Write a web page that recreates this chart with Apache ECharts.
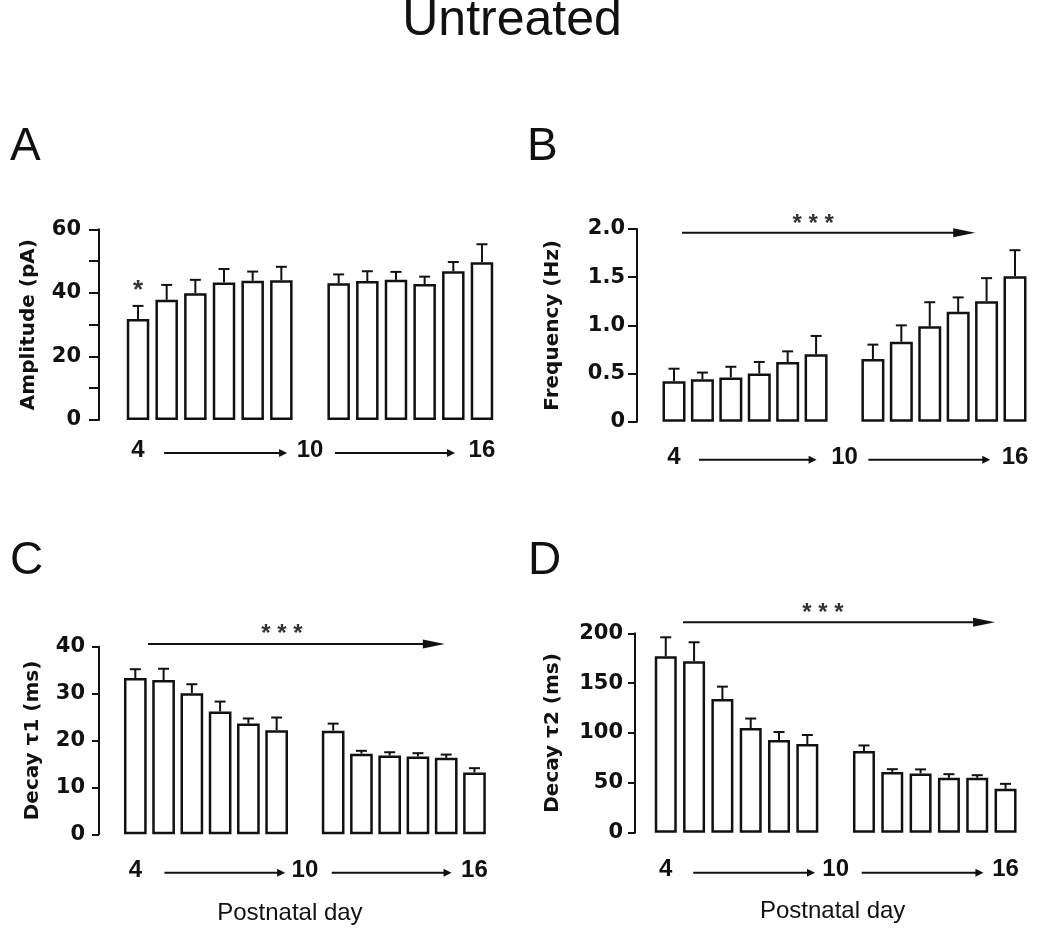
<!DOCTYPE html>
<html><head><meta charset="utf-8">
<script src="https://cdn.jsdelivr.net/npm/echarts@6/dist/echarts.min.js"></script>
<style>html,body{margin:0;padding:0;background:#fff}#c{width:1050px;height:935px}</style>
</head><body><div id="c"></div>
<script>
// ---- data ----
const days = [4, 5, 6, 7, 8, 9, 10, 11, 12, 13, 14, 15, 16];
const dayLabelsShown = [4, 10, 16];
const amplitudeMean = [31.8, 37.8, 39.9, 43.3, 43.8, 44.0, null, 43.0, 43.7, 44.1, 42.8, 46.8, 49.6];
const amplitudeSem  = [4.1, 4.7, 4.2, 4.2, 2.9, 4.2, null, 2.8, 3.1, 2.5, 2.3, 2.9, 5.7];
const frequencyMean = [0.42, 0.44, 0.46, 0.50, 0.62, 0.70, null, 0.65, 0.83, 0.99, 1.14, 1.25, 1.51];
const frequencySem  = [0.13, 0.07, 0.11, 0.12, 0.11, 0.19, null, 0.15, 0.17, 0.25, 0.15, 0.24, 0.27];
const tau1Mean = [33.3, 32.9, 30.1, 26.2, 23.6, 22.2, null, 22.1, 17.2, 16.8, 16.6, 16.3, 13.2];
const tau1Sem  = [1.9, 2.4, 1.9, 2.1, 1.1, 2.7, null, 1.5, 0.6, 0.7, 0.7, 0.7, 0.9];
const tau2Mean = [177, 172, 134, 105, 93, 89, null, 82, 61, 59.5, 55, 55, 44];
const tau2Sem  = [19, 19, 12.5, 9.5, 8, 9, null, 5.5, 2.7, 4, 3.7, 2.7, 5];
const yTicksA = [0, 20, 40, 60];
const yTicksB = [0, 0.5, 1.0, 1.5, 2.0];
const yTicksC = [0, 10, 20, 30, 40];
const yTicksD = [0, 50, 100, 150, 200];

// ---- layout / style ----
const INK = '#111';
const panels = [
  {letter:'A', name:'Amplitude (pA)', mean:amplitudeMean, sem:amplitudeSem, ticks:yTicksA, minorStep:10,
   grid:{left:123.7, top:229.3, width:372.6, height:190.7}, yOffset:24.7, labelMargin:18, tickLen:10, nameGap:60,
   xMargin:18, rowOff:33, rowArrows:[[0.91,5.2],[6.87,11.06]], fmt:v=>String(v), barW:22.5,
   letterPos:[10,147]},
  {letter:'B', name:'Frequency (Hz)', mean:frequencyMean, sem:frequencySem, ticks:yTicksB, minorStep:0.5,
   grid:{left:659.8, top:229, width:369.4, height:192.7}, yOffset:22.8, labelMargin:12, tickLen:9, nameGap:74,
   xMargin:24, rowOff:38, rowArrows:[[0.88,5.02],[6.84,11.13]], fmt:v=>v===0?'0':v.toFixed(1), barW:23,
   letterPos:[527,147]},
  {letter:'C', name:'Decay \u03c41 (ms)', mean:tau1Mean, sem:tau1Sem, ticks:yTicksC, minorStep:10,
   grid:{left:121.2, top:646.7, width:367.4, height:187.6}, yOffset:22.2, labelMargin:14, tickLen:7, nameGap:56,
   xMargin:24, rowOff:38.5, rowArrows:[[1.03,5.3],[6.95,11.19]], fmt:v=>String(v), xName:true, namePad:[0,30,0,0], barW:22.7,
   letterPos:[10,561]},
  {letter:'D', name:'Decay \u03c42 (ms)', mean:tau2Mean, sem:tau2Sem, ticks:yTicksD, minorStep:50,
   grid:{left:651.6, top:633.3, width:368.1, height:199.4}, yOffset:16.6, labelMargin:12, tickLen:7, nameGap:72,
   xMargin:25, rowOff:40, rowArrows:[[0.97,5.27],[6.92,11.22]], fmt:v=>String(v), xName:true, namePad:[0,6,0,0], barW:22,
   letterPos:[528,561]}
];
// significance annotations: slot positions in category units, heights in data units
const singleStars = [{panel:0, slot:0, value:42.4, text:'*'}];
const trendArrows = [
  {panel:1, from:0.28, to:10.6, value:1.96, starSlot:4.9, starValue:2.115},
  {panel:2, from:0.45, to:10.95, value:40.6, starSlot:5.19, starValue:44.0},
  {panel:3, from:0.61, to:11.63, value:211, starSlot:5.55, starValue:226.4}
];

const chart = echarts.init(document.getElementById('c'), null, {renderer:'canvas'});
const grids = [], xAxes = [], yAxes = [], series = [];
panels.forEach((p, i) => {
  grids.push(Object.assign({containLabel:false}, p.grid));
  const maxV = p.ticks[p.ticks.length-1];
  const labelStep = p.ticks[1] - p.ticks[0];
  xAxes.push({
    type:'category', gridIndex:i, data:days.map(String),
    axisLine:{show:false}, axisTick:{show:false}, splitLine:{show:false},
    axisLabel:{interval:(idx, val)=>dayLabelsShown.includes(+val), color:INK,
      fontFamily:'Liberation Sans, Arial', fontWeight:'bold', fontSize:24, margin:p.xMargin},
    name:p.xName ? 'Postnatal day' : '', nameLocation:'middle', nameGap:67,
    nameTextStyle:{fontFamily:'Liberation Sans, Arial', fontSize:24, color:INK, padding:p.namePad||0}
  });
  yAxes.push({
    type:'value', gridIndex:i, min:0, max:maxV, interval:p.minorStep, offset:p.yOffset,
    axisLine:{show:true, lineStyle:{color:INK, width:2}},
    axisTick:{show:true, length:p.tickLen, lineStyle:{color:INK, width:2}},
    splitLine:{show:false},
    axisLabel:{margin:p.labelMargin, color:INK, fontFamily:'DejaVu Sans', fontWeight:'bold', fontSize:21,
      formatter:v=>{ const r = v/labelStep; return Math.abs(r-Math.round(r))<1e-6 ? p.fmt(v) : ''; }},
    name:p.name, nameLocation:'middle', nameRotate:90, nameGap:p.nameGap,
    nameTextStyle:{fontFamily:'DejaVu Sans', fontWeight:'bold', fontSize:20, color:INK}
  });
  series.push({
    type:'bar', xAxisIndex:i, yAxisIndex:i, barWidth:p.barW, silent:true,
    data:p.mean.map(v=>v==null?'-':v),
    itemStyle:{color:'#fff', borderColor:INK, borderWidth:2.5}, z:2
  });
  const errData = [];
  p.mean.forEach((m, j)=>{ if (m!=null) errData.push([j, m, +(m + p.sem[j]).toFixed(3)]); });
  series.push({
    type:'custom', xAxisIndex:i, yAxisIndex:i, z:3, silent:true,
    encode:{x:0, y:[1,2]}, data:errData,
    renderItem:(params, api)=>{
      const x = api.value(0), m = api.value(1), t = api.value(2);
      const a = api.coord([x, m]), b = api.coord([x, t]);
      return {type:'group', children:[
        {type:'line', shape:{x1:a[0], y1:a[1], x2:b[0], y2:b[1]}, style:{stroke:INK, lineWidth:2}},
        {type:'line', shape:{x1:b[0]-5.5, y1:b[1], x2:b[0]+5.5, y2:b[1]}, style:{stroke:INK, lineWidth:2}}
      ]};
    }
  });
});

chart.setOption({animation:false, backgroundColor:'#fff', grid:grids, xAxis:xAxes, yAxis:yAxes, series:series});

// ---- annotations positioned through the chart's own scales ----
function slotX(i, s) {
  const p0 = chart.convertToPixel({xAxisIndex:i, yAxisIndex:i}, [0, 0]);
  const p12 = chart.convertToPixel({xAxisIndex:i, yAxisIndex:i}, [12, 0]);
  return p0[0] + (p12[0]-p0[0]) * s / 12;
}
function valY(i, v) { return chart.convertToPixel({xAxisIndex:i, yAxisIndex:i}, [0, v])[1]; }
function arrow(x1, x2, y, headLen, headHalf, lw) {
  return [
    {type:'line', silent:true, shape:{x1:x1, y1:y, x2:x2-headLen+1, y2:y}, style:{stroke:INK, lineWidth:lw}},
    {type:'polygon', silent:true, shape:{points:[[x2,y],[x2-headLen,y-headHalf],[x2-headLen,y+headHalf]]}, style:{fill:INK}}
  ];
}
const g = [];
g.push({type:'text', silent:true, x:512, y:21, style:{text:'Untreated', font:'50px "Liberation Sans", Arial', fill:INK, align:'center', verticalAlign:'middle'}});
panels.forEach((p, i)=>{
  g.push({type:'text', silent:true, x:p.letterPos[0], y:p.letterPos[1], style:{text:p.letter, font:'46px "Liberation Sans", Arial', fill:INK, align:'left', verticalAlign:'middle'}});
  const yRow = valY(i, 0) + p.rowOff;
  p.rowArrows.forEach(r=>{ g.push(...arrow(slotX(i, r[0]), slotX(i, r[1]), yRow, 8, 4, 2)); });
});
singleStars.forEach(s=>{
  g.push({type:'text', silent:true, x:slotX(s.panel, s.slot), y:valY(s.panel, s.value)+6,
    style:{text:s.text, font:'bold 26px "Liberation Sans", Arial', fill:'#333', align:'center', verticalAlign:'middle'}});
});
trendArrows.forEach(t=>{
  g.push(...arrow(slotX(t.panel, t.from), slotX(t.panel, t.to), valY(t.panel, t.value), 22, 4.5, 2));
  g.push({type:'text', silent:true, x:slotX(t.panel, t.starSlot), y:valY(t.panel, t.starValue)+6,
    style:{text:'* * *', font:'bold 24px "Liberation Sans", Arial', fill:'#333', align:'center', verticalAlign:'middle'}});
});
chart.setOption({graphic:{elements:g}});
</script></body></html>
